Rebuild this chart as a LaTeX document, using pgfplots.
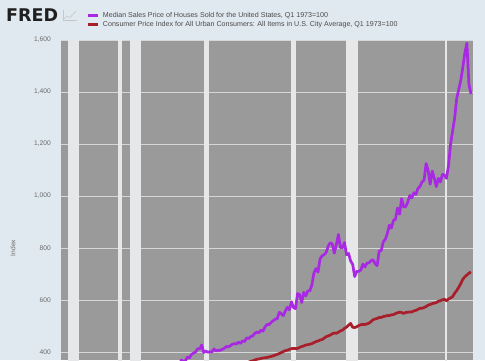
\documentclass[border=0pt]{standalone}
\usepackage{fontspec}
\setmainfont{Liberation Sans}
\newfontfamily\logofont{DejaVu Sans}
\usepackage{pgfplots}
\usepackage{pgfplotstable}
\pgfplotsset{compat=1.18}
\definecolor{pagebg}{HTML}{E1E9F0}
\definecolor{plotgray}{HTML}{9A9A9A}
\definecolor{stripe}{HTML}{E6E7E9}
\definecolor{gridc}{HTML}{D6D6D6}
\definecolor{housec}{HTML}{A928E4}
\definecolor{cpic}{HTML}{A81E2A}
\definecolor{ticktext}{HTML}{6A6A6A}
\definecolor{legtext}{HTML}{4A4A4A}

\pgfplotstableread{
x y
1985.00 274
1985.25 279
1985.50 275
1985.75 287
1986.00 291
1986.25 305
1986.50 300
1986.75 303
1987.00 324
1987.25 342
1987.50 351
1987.75 369
1988.00 364
1988.25 366
1988.50 381
1988.75 377
1989.00 391
1989.25 396
1989.50 400
1989.75 413
1990.00 412
1990.25 427
1990.50 398
1990.75 404
1991.00 399
1991.25 401
1991.50 400
1991.75 412
1992.00 404
1992.25 407
1992.50 406
1992.75 410
1993.00 414
1993.25 421
1993.50 420
1993.75 424
1994.00 430
1994.25 432
1994.50 431
1994.75 438
1995.00 433
1995.25 443
1995.50 440
1995.75 454
1996.00 452
1996.25 459
1996.50 462
1996.75 472
1997.00 476
1997.25 474
1997.50 484
1997.75 480
1998.00 496
1998.25 506
1998.50 505
1998.75 514
1999.00 520
1999.25 526
1999.50 528
1999.75 553
2000.00 547
2000.25 540
2000.50 558
2000.75 572
2001.00 562
2001.25 593
2001.50 571
2001.75 567
2002.00 625
2002.25 620
2002.50 590
2002.75 629
2003.00 616
2003.25 635
2003.50 635
2003.75 658
2004.00 704
2004.25 721
2004.50 707
2004.75 758
2005.00 770
2005.25 774
2005.50 783
2005.75 807
2006.00 820
2006.25 816
2006.50 780
2006.75 813
2007.00 852
2007.25 802
2007.50 801
2007.75 821
2008.00 774
2008.25 779
2008.50 750
2008.75 737
2009.00 690
2009.25 710
2009.50 710
2009.75 715
2010.00 738
2010.25 727
2010.50 742
2010.75 743
2011.00 751
2011.25 755
2011.50 740
2011.75 732
2012.00 789
2012.25 790
2012.50 824
2012.75 833
2013.00 856
2013.25 888
2013.50 877
2013.75 906
2014.00 911
2014.25 954
2014.50 930
2014.75 990
2015.00 958
2015.25 959
2015.50 976
2015.75 1002
2016.00 993
2016.25 1013
2016.50 1006
2016.75 1029
2017.00 1037
2017.25 1054
2017.50 1061
2017.75 1125
2018.00 1099
2018.25 1045
2018.50 1096
2018.75 1069
2019.00 1036
2019.25 1068
2019.50 1054
2019.75 1083
2020.00 1080
2020.25 1068
2020.50 1118
2020.75 1200
2021.00 1250
2021.25 1300
2021.50 1375
2021.75 1410
2022.00 1445
2022.25 1495
2022.50 1550
2022.75 1588
2023.00 1430
2023.25 1392
}\housetable

\pgfplotstableread{
x y
1993.00 333
1993.25 336
1993.50 337
1993.75 340
1994.00 342
1994.25 344
1994.50 346
1994.75 348
1995.00 351
1995.25 354
1995.50 355
1995.75 358
1996.00 361
1996.25 364
1996.50 366
1996.75 369
1997.00 372
1997.25 373
1997.50 375
1997.75 377
1998.00 378
1998.25 379
1998.50 381
1998.75 383
1999.00 385
1999.25 388
1999.50 391
1999.75 394
2000.00 398
2000.25 402
2000.50 405
2000.75 407
2001.00 410
2001.25 413
2001.50 414
2001.75 413
2002.00 414
2002.25 418
2002.50 421
2002.75 423
2003.00 427
2003.25 428
2003.50 430
2003.75 432
2004.00 436
2004.25 440
2004.50 442
2004.75 446
2005.00 448
2005.25 453
2005.50 459
2005.75 462
2006.00 465
2006.25 470
2006.50 473
2006.75 472
2007.00 476
2007.25 481
2007.50 484
2007.75 491
2008.00 496
2008.25 503
2008.50 510
2008.75 495
2009.00 494
2009.25 497
2009.50 502
2009.75 505
2010.00 506
2010.25 506
2010.50 508
2010.75 511
2011.00 517
2011.25 524
2011.50 527
2011.75 529
2012.00 533
2012.25 533
2012.50 536
2012.75 538
2013.00 540
2013.25 540
2013.50 543
2013.75 544
2014.00 548
2014.25 551
2014.50 553
2014.75 552
2015.00 548
2015.25 552
2015.50 553
2015.75 554
2016.00 554
2016.25 558
2016.50 560
2016.75 564
2017.00 568
2017.25 568
2017.50 571
2017.75 575
2018.00 580
2018.25 583
2018.50 586
2018.75 588
2019.00 590
2019.25 595
2019.50 597
2019.75 601
2020.00 603
2020.25 597
2020.50 604
2020.75 608
2021.00 613
2021.25 626
2021.50 636
2021.75 649
2022.00 663
2022.25 680
2022.50 689
2022.75 696
2023.00 703
2023.25 708
}\cpitable

\begin{document}
\begin{tikzpicture}
\fill[pagebg] (0pt,0pt) rectangle (485pt,360pt);
% logo
\node[anchor=west, inner sep=0pt, text=black!88, font=\logofont\bfseries\fontsize{17.5}{17.5}\selectfont] at (6pt,345pt) {FRED};
\begin{scope}[line width=0.6pt, draw=black!22]
\draw (63pt,340pt) -- (63pt,350pt);
\draw (63pt,340pt) -- (77pt,340pt);
\draw (64pt,341pt) -- (67pt,344pt) -- (70pt,342.5pt) -- (76pt,349pt);
\end{scope}
\begin{axis}[
  at={(61pt,0pt)}, anchor=south west,
  scale only axis, width=412pt, height=320pt,
  xmin=1973, xmax=2023.5, ymin=369.2, ymax=1600,
  axis background/.style={fill=plotgray},
  axis line style={draw=none},
  xtick=\empty,
  ytick={400,600,...,1600},
  major tick length=0pt,
  ymajorgrids, major grid style={color=gridc, line width=0.7pt},
  yticklabel style={font=\fontsize{6.7}{7.5}\selectfont, text=ticktext, anchor=east, inner sep=0pt, xshift=-10pt},
  /pgf/number format/.cd, 1000 sep={,}, assume math mode=true, /pgfplots/.cd,
  legend style={at={(axis description cs:0.063,1)}, anchor=south west, yshift=12.3pt,
    draw=none, fill=none, inner sep=0pt, outer sep=0pt, row sep=2.4pt, column sep=3pt,
    font=\fontsize{7.1}{8}\selectfont,
    nodes={inner sep=0pt, text height=5.2pt, text depth=1.4pt, text=legtext}},
  legend cell align=left,
  legend image code/.code={\draw[#1, line width=3pt] (0pt,0pt) -- (10pt,0pt);},
]
\addplot[fill=stripe, draw=none, forget plot] coordinates {(1973.83,300) (1975.17,300) (1975.17,1700) (1973.83,1700)} -- cycle;
\addplot[fill=stripe, draw=none, forget plot] coordinates {(1980.0,300) (1980.5,300) (1980.5,1700) (1980.0,1700)} -- cycle;
\addplot[fill=stripe, draw=none, forget plot] coordinates {(1981.5,300) (1982.83,300) (1982.83,1700) (1981.5,1700)} -- cycle;
\addplot[fill=stripe, draw=none, forget plot] coordinates {(1990.5,300) (1991.17,300) (1991.17,1700) (1990.5,1700)} -- cycle;
\addplot[fill=stripe, draw=none, forget plot] coordinates {(2001.17,300) (2001.83,300) (2001.83,1700) (2001.17,1700)} -- cycle;
\addplot[fill=stripe, draw=none, forget plot] coordinates {(2007.92,300) (2009.42,300) (2009.42,1700) (2007.92,1700)} -- cycle;
\addplot[fill=stripe, draw=none, forget plot] coordinates {(2020.08,300) (2020.33,300) (2020.33,1700) (2020.08,1700)} -- cycle;
\addplot[housec, line width=2.7pt, line join=round] table[x=x,y=y] {\housetable};
\addlegendentry{Median Sales Price of Houses Sold for the United States, Q1 1973=100}
\addplot[cpic, line width=2.7pt, line join=round] table[x=x,y=y] {\cpitable};
\addlegendentry{Consumer Price Index for All Urban Consumers: All Items in U.S. City Average, Q1 1973=100}
\end{axis}
\node[rotate=90, text=ticktext, font=\fontsize{6.7}{7.5}\selectfont, inner sep=0pt] at (13pt,112pt) {Index};
\pgfresetboundingbox
\useasboundingbox (0pt,0pt) rectangle (485pt,360pt);
\end{tikzpicture}
\end{document}
